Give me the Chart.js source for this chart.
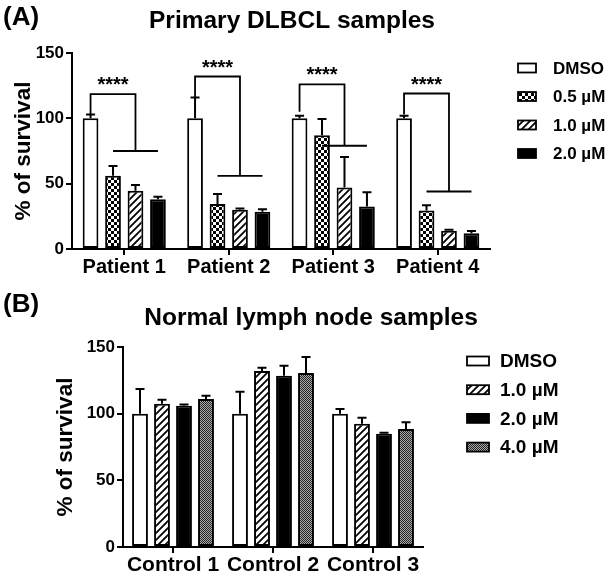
<!DOCTYPE html>
<html lang="en">
<head>
<meta charset="UTF-8">
<title>% of survival – primary DLBCL vs normal lymph node</title>
<script src="https://cdn.jsdelivr.net/npm/chart.js"></script>
<style>
  body{margin:0;background:#fff;}
  .wrap{position:relative;width:615px;height:578px;}
  .panel{position:absolute;left:0;width:615px;}
  #boxA{top:0;height:290px;}
  #boxB{top:290px;height:288px;}
</style>
</head>
<body>
<div class="wrap">
  <div class="panel" id="boxA"><canvas id="chartA" width="615" height="290"></canvas></div>
  <div class="panel" id="boxB"><canvas id="chartB" width="615" height="288"></canvas></div>
</div>
<script>
// ---- data (A) primary DLBCL ----
const patients = ['Patient 1', 'Patient 2', 'Patient 3', 'Patient 4'];
const seriesA = ['DMSO', '0.5 µM', '1.0 µM', '2.0 µM'];
const dmsoA = [100, 100, 100, 100];
const dmsoAErr = [103, 116, 102, 102];
const halfA = [56, 34.5, 87, 29.5];
const halfAErr = [63.5, 42, 99.5, 33.5];
const oneA = [44.5, 30, 47, 14];
const oneAErr = [49, 31, 70.5, 14.8];
const twoA = [38, 28.5, 32.5, 12];
const twoAErr = [40, 30.5, 43.5, 13.8];
// significance brackets (value units)
const sigTop = [118.5, 132, 126, 119];
const sigLeft = [102, 115, 105, 103];
const sigLow = [75, 56, 79, 44];
const sigText = ['****', '****', '****', '****'];

// ---- data (B) normal lymph node ----
const controls = ['Control 1', 'Control 2', 'Control 3'];
const seriesB = ['DMSO', '1.0 µM', '2.0 µM', '4.0 µM'];
const dmsoB = [100, 100, 100];
const dmsoBErr = [118.5, 116.5, 103.5];
const oneB = [107.5, 132, 92.5];
const oneBErr = [110.5, 134.5, 97];
const twoB = [106, 128.5, 85];
const twoBErr = [106.8, 136, 85.6];
const fourB = [111, 130.5, 88.5];
const fourBErr = [113.5, 142.5, 93.5];

const yTicks = [0, 50, 100, 150];
const FONT = 'Arial, "Liberation Sans", sans-serif';

// fill patterns
function makePattern(kind){
  const c = document.createElement('canvas');
  const x = c.getContext('2d');
  if(kind === 'checker'){
    c.width = c.height = 6;
    x.fillStyle = '#fff'; x.fillRect(0,0,6,6);
    x.fillStyle = '#000'; x.fillRect(0,0,3,3); x.fillRect(3,3,3,3);
  } else if(kind === 'hatch'){
    c.width = c.height = 7;
    x.fillStyle = '#fff'; x.fillRect(0,0,7,7);
    x.strokeStyle = '#000'; x.lineWidth = 1.8;
    x.beginPath();
    x.moveTo(0,7); x.lineTo(7,0);
    x.moveTo(-1,1); x.lineTo(1,-1);
    x.moveTo(6,8); x.lineTo(8,6);
    x.stroke();
  } else if(kind === 'fine'){
    c.width = c.height = 2;
    x.fillStyle = '#aaa'; x.fillRect(0,0,2,2);
    x.fillStyle = '#222'; x.fillRect(0,0,1,1); x.fillRect(1,1,1,1);
  }
  return x.createPattern(c, 'repeat');
}
const fills = {
  white: '#fff',
  checker: makePattern('checker'),
  hatch: makePattern('hatch'),
  black: '#000',
  fine: makePattern('fine')
};

function barSet(label, data, err, fill){
  return {label, data, errTop: err, backgroundColor: fill, borderColor: '#000', borderWidth: 2, borderSkipped: false};
}

// error bars, brackets, titles and legend
const decor = {
  id: 'decor',
  afterDatasetsDraw(chart, args, opts){
    const ctx = chart.ctx, ys = chart.scales.y;
    ctx.save();
    ctx.strokeStyle = '#000';
    ctx.lineWidth = 2;
    chart.data.datasets.forEach((ds, di) => {
      chart.getDatasetMeta(di).data.forEach((bar, i) => {
        const ey = ys.getPixelForValue(ds.errTop[i]);
        ctx.beginPath();
        ctx.moveTo(bar.x, bar.y); ctx.lineTo(bar.x, ey);
        ctx.moveTo(bar.x - 4.5, ey); ctx.lineTo(bar.x + 4.5, ey);
        ctx.stroke();
      });
    });
    if(opts.sig){
      const m = i => chart.getDatasetMeta(i).data;
      ctx.lineWidth = 1.8;
      opts.sig.top.forEach((v, i) => {
        const lx = m(0)[i].x, rx = m(2)[i].x;
        const yt = ys.getPixelForValue(v);
        const yl = ys.getPixelForValue(opts.sig.left[i]);
        const yb = ys.getPixelForValue(opts.sig.low[i]);
        ctx.beginPath();
        ctx.moveTo(lx, yl); ctx.lineTo(lx, yt); ctx.lineTo(rx, yt); ctx.lineTo(rx, yb);
        ctx.moveTo(m(1)[i].x, yb); ctx.lineTo(m(3)[i].x, yb);
        ctx.stroke();
        ctx.fillStyle = '#000';
        ctx.font = 'bold 20px ' + FONT;
        ctx.textAlign = 'center';
        ctx.textBaseline = 'alphabetic';
        ctx.fillText(opts.sig.text[i], (lx + rx) / 2, yt - 3);
      });
    }
    ctx.restore();
  },
  afterDraw(chart, args, opts){
    const ctx = chart.ctx;
    ctx.save();
    ctx.fillStyle = '#000';
    ctx.textBaseline = 'middle';
    ctx.font = 'bold 26px ' + FONT;
    ctx.textAlign = 'left';
    ctx.fillText(opts.tag.text, opts.tag.x, opts.tag.y);
    ctx.font = 'bold 24.5px ' + FONT;
    ctx.textAlign = 'center';
    ctx.fillText(opts.title.text, opts.title.x, opts.title.y);
    const L = opts.legend;
    ctx.font = 'bold ' + L.size + 'px ' + FONT;
    ctx.textAlign = 'left';
    chart.data.datasets.forEach((ds, i) => {
      const cy = L.y + i * L.dy;
      ctx.fillStyle = ds.backgroundColor;
      ctx.fillRect(L.x, cy - L.h / 2, L.w, L.h);
      ctx.strokeStyle = '#000';
      ctx.lineWidth = 1.8;
      ctx.strokeRect(L.x, cy - L.h / 2, L.w, L.h);
      ctx.fillStyle = '#000';
      ctx.fillText(ds.label, L.textX, cy + 1);
    });
    ctx.restore();
  }
};

function axes(yWidth, xHeight, titlePad, xFont){
  return {
    x: {
      afterFit: s => { s.height = xHeight; },
      grid: {drawOnChartArea: false, offset: false, color: '#000', lineWidth: 2, tickLength: 6},
      border: {color: '#000', width: 2},
      ticks: {color: '#000', font: {family: FONT, size: xFont, weight: 'bold'}, padding: 0, maxRotation: 0}
    },
    y: {
      min: 0, max: 150,
      afterFit: s => { s.width = yWidth; },
      afterBuildTicks: s => { s.ticks = yTicks.map(v => ({value: v})); },
      grid: {drawOnChartArea: false, color: '#000', lineWidth: 2, tickLength: 6},
      border: {color: '#000', width: 2},
      ticks: {color: '#000', font: {family: FONT, size: 17, weight: 'bold'}, padding: 2},
      title: {display: true, text: '% of survival', color: '#000',
              font: {family: FONT, size: 22.5, weight: 'bold'}, padding: {top: titlePad, bottom: 0}}
    }
  };
}

new Chart(document.getElementById('chartA'), {
  type: 'bar',
  data: {
    labels: patients,
    datasets: [
      barSet(seriesA[0], dmsoA, dmsoAErr, fills.white),
      barSet(seriesA[1], halfA, halfAErr, fills.checker),
      barSet(seriesA[2], oneA, oneAErr, fills.hatch),
      barSet(seriesA[3], twoA, twoAErr, fills.black)
    ]
  },
  options: {
    responsive: false, animation: false,
    categoryPercentage: 0.86, barPercentage: 0.7,
    layout: {padding: {top: 53, right: 125, left: 0, bottom: 0}},
    scales: axes(72, 41, 10, 20),
    plugins: {
      legend: {display: false}, tooltip: {enabled: false},
      decor: {
        tag: {text: '(A)', x: 3, y: 18},
        title: {text: 'Primary DLBCL samples', x: 292, y: 21},
        legend: {x: 518, y: 68, dy: 28.5, w: 18, h: 9, textX: 553, size: 17},
        sig: {top: sigTop, left: sigLeft, low: sigLow, text: sigText}
      }
    }
  },
  plugins: [decor]
});

new Chart(document.getElementById('chartB'), {
  type: 'bar',
  data: {
    labels: controls,
    datasets: [
      barSet(seriesB[0], dmsoB, dmsoBErr, fills.white),
      barSet(seriesB[1], oneB, oneBErr, fills.hatch),
      barSet(seriesB[2], twoB, twoBErr, fills.black),
      barSet(seriesB[3], fourB, fourBErr, fills.fine)
    ]
  },
  options: {
    responsive: false, animation: false,
    categoryPercentage: 0.88, barPercentage: 0.72,
    layout: {padding: {top: 57, right: 192, left: 45, bottom: 0}},
    scales: axes(78, 31, 7, 21),
    plugins: {
      legend: {display: false}, tooltip: {enabled: false},
      decor: {
        tag: {text: '(B)', x: 3, y: 15},
        title: {text: 'Normal lymph node samples', x: 311, y: 28},
        legend: {x: 467, y: 71, dy: 28.7, w: 22, h: 9, textX: 500, size: 19}
      }
    }
  },
  plugins: [decor]
});
</script>
</body>
</html>
